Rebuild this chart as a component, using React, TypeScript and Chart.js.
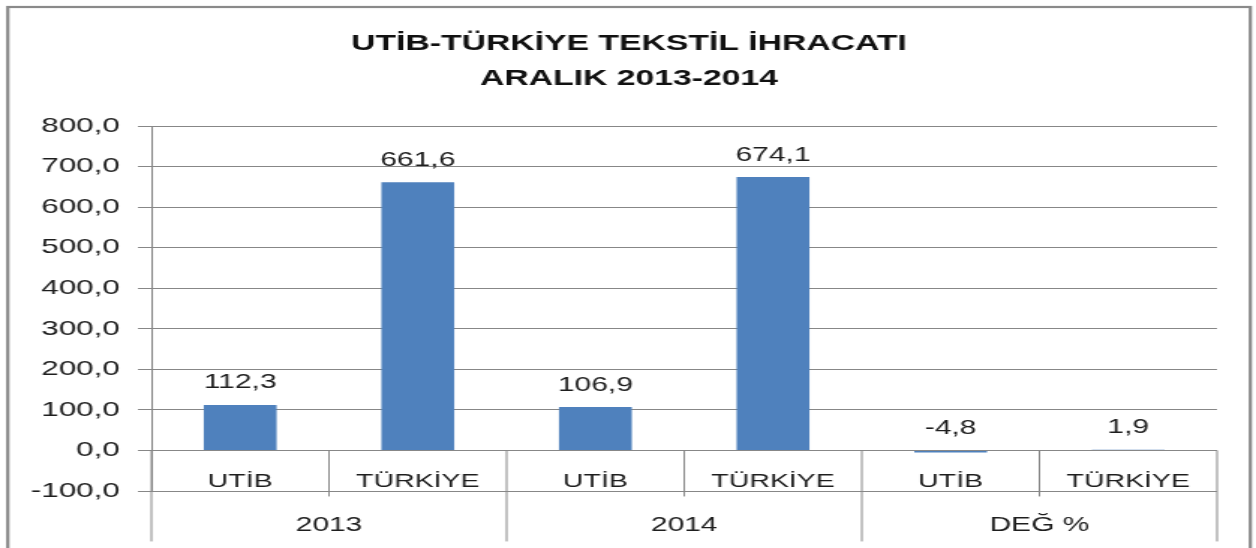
import React, { useEffect, useRef } from "react";
import { Chart, registerables } from "chart.js";

Chart.register(...registerables);

const titleLines = ["UTİB-TÜRKİYE TEKSTİL İHRACATI", "ARALIK 2013-2014"];
const groups = ["2013", "2014", "DEĞ %"];
const categories = ["UTİB", "TÜRKİYE", "UTİB", "TÜRKİYE", "UTİB", "TÜRKİYE"];
const values = [112.3, 661.6, 106.9, 674.1, -4.8, 1.9];
const yMin = -100;
const yMax = 800;
const yStep = 100;

const FONT = "'Liberation Sans', Arial, sans-serif";
const W = 838;
const H = 548;
const SX = 1256 / W;
const GRID = "#878787";
const TEXT = "#1e1e1e";
const BAR = "#4F81BD";

const fmt = (v: number) => v.toFixed(1).replace(".", ",");

const decor = {
  id: "decor",
  beforeDraw(chart: any) {
    const ctx = chart.ctx;
    ctx.save();
    ctx.fillStyle = "#ffffff";
    ctx.fillRect(0, 0, chart.width, chart.height);
    ctx.strokeStyle = "#8a8a8a";
    ctx.lineWidth = 2.2;
    ctx.strokeRect(5.2, 7, 829, 600);
    // title
    ctx.fillStyle = "#111111";
    ctx.textAlign = "center";
    ctx.textBaseline = "middle";
    ctx.font = `bold 22.5px ${FONT}`;
    const cx = (5.2 + 834.2) / 2;
    titleLines.forEach((t, i) => {
      ctx.fillText(t, cx, 44 + i * 35);
    });
    ctx.restore();
  },
  afterDraw(chart: any) {
    const ctx = chart.ctx;
    const xs = chart.scales.x;
    const ys = chart.scales.y;
    const y0 = ys.getPixelForValue(0);
    const n = categories.length;
    ctx.save();
    // separators
    ctx.strokeStyle = GRID;
    ctx.lineWidth = 1;
    for (let i = 0; i <= n; i++) {
      let xb: number;
      if (i === 0) xb = xs.left;
      else if (i === n) xb = xs.right;
      else xb = (xs.getPixelForValue(i - 1) + xs.getPixelForValue(i)) / 2;
      const len = i % 2 === 0 ? 91 : 46;
      ctx.beginPath();
      ctx.moveTo(xb, y0);
      ctx.lineTo(xb, y0 + len);
      ctx.stroke();
    }
    // category labels
    ctx.fillStyle = TEXT;
    ctx.textAlign = "center";
    ctx.textBaseline = "middle";
    ctx.font = `19px ${FONT}`;
    categories.forEach((c, i) => {
      ctx.fillText(c, xs.getPixelForValue(i), y0 + 31);
    });
    // group labels
    ctx.font = `20px ${FONT}`;
    groups.forEach((g, gi) => {
      const xc = (xs.getPixelForValue(gi * 2) + xs.getPixelForValue(gi * 2 + 1)) / 2;
      ctx.fillText(g, xc, y0 + 75);
    });
    // data labels
    ctx.font = `20px ${FONT}`;
    const meta = chart.getDatasetMeta(0);
    meta.data.forEach((el: any, i: number) => {
      const top = Math.min(el.y, el.base);
      ctx.fillText(fmt(values[i]), el.x, top - 22);
    });
    ctx.restore();
  },
};

export default function App() {
  const ref = useRef<HTMLCanvasElement | null>(null);
  useEffect(() => {
    document.body.style.margin = "0";
    document.body.style.overflow = "hidden";
    const canvas = ref.current;
    if (!canvas) return;
    const chart = new Chart(canvas, {
      type: "bar",
      data: {
        labels: categories,
        datasets: [
          {
            data: values,
            backgroundColor: BAR,
            borderWidth: 0,
            barPercentage: 0.41,
            categoryPercentage: 1,
          },
        ],
      },
      options: {
        responsive: false,
        animation: false,
        devicePixelRatio: 1,
        layout: { padding: { left: 0, right: 26, top: 126, bottom: 57 } },
        plugins: {
          legend: { display: false },
          tooltip: { enabled: false },
          title: { display: false },
        },
        scales: {
          x: { display: false },
          y: {
            min: yMin,
            max: yMax,
            afterFit: (scale: any) => {
              scale.width = 101;
            },
            ticks: {
              stepSize: yStep,
              color: TEXT,
              font: { family: FONT, size: 21 },
              padding: 12,
              callback: (v: any) => fmt(Number(v)),
            },
            grid: { color: GRID, lineWidth: 1, tickLength: 9, drawTicks: true },
            border: { display: true, color: GRID, width: 1 },
          },
        },
      },
      plugins: [decor],
    });
    return () => chart.destroy();
  }, []);
  return (
    <div
      style={{
        width: W + "px",
        height: H + "px",
        transform: `scaleX(${SX})`,
        transformOrigin: "0 0",
      }}
    >
      <canvas ref={ref} width={W} height={H} style={{ width: W + "px", height: H + "px", display: "block" }} />
    </div>
  );
}
